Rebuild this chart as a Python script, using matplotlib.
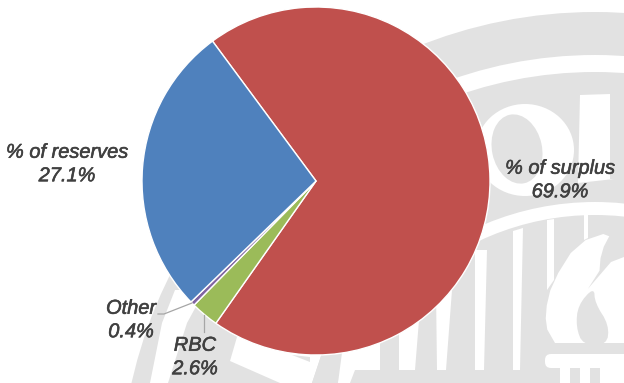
#!/usr/bin/env python3
"""
Share of capital by component, pie over a faded seal
"""

import matplotlib
matplotlib.use('Agg')
import matplotlib.pyplot as plt
import matplotlib.patheffects as pe
from matplotlib.patches import Circle, Ellipse, FancyBboxPatch, Polygon, Rectangle

W, H = 624, 383

labels = ['% of surplus', 'RBC', 'Other', '% of reserves']
shares = [69.9, 2.6, 0.4, 27.1]
colors = ['#C0504D', '#9BBB59', '#8064A2', '#4F81BD']

SEAL = '#E2E2E2'
INK = '#404040'
LEADER = '#A6A6A6'


def flip(points):
    # seal outline is noted from the top-left corner
    return [(x, H - y) for x, y in points]


def fill(ax, points, color):
    ax.add_patch(Polygon(flip(points), closed=True, facecolor=color, edgecolor='none', zorder=1))


def smooth(points, rounds=2):
    # corner cutting, keeps the flame outline from looking faceted
    for _ in range(rounds):
        out = []
        for (x0, y0), (x1, y1) in zip(points, points[1:] + points[:1]):
            out.append((0.75 * x0 + 0.25 * x1, 0.75 * y0 + 0.25 * y1))
            out.append((0.25 * x0 + 0.75 * x1, 0.25 * y0 + 0.75 * y1))
        points = out
    return points


def draw_seal(ax):
    """Grey rings, letters, columns and torch behind the pie"""
    centre = (595, H - 487)
    for radius, color in [(475, SEAL), (432, 'white'), (415, SEAL), (285, 'white'), (272, SEAL)]:
        ax.add_patch(Circle(centre, radius, facecolor=color, edgecolor='none', zorder=1))

    # letters on the ring
    ax.add_patch(Ellipse((525, H - 150), 98, 92, facecolor='white', edgecolor='none', zorder=1))
    ax.add_patch(Ellipse((517, H - 149), 50, 70, angle=12, facecolor=SEAL, edgecolor='none', zorder=1))
    fill(ax, [(580, 95), (610, 94), (610, 179), (614, 179), (578, 183)], 'white')

    # lower left of the ring, narrow band then the wide one
    fill(ax, [(168, 383), (187, 323), (205, 290), (300, 290), (320, 383)], SEAL)
    fill(ax, [(150, 383), (162, 323), (175, 290), (205, 290), (187, 323), (168, 383)], 'white')

    # base of the ring
    fill(ax, [(230, 361), (237, 337), (320, 320), (322, 353), (312, 383), (280, 383)], 'white')
    fill(ax, [(292, 355), (310, 357), (310, 362)], SEAL)
    fill(ax, [(312, 383), (338, 383), (348, 353), (322, 353)], SEAL)
    fill(ax, [(338, 383), (350, 383), (355, 370), (380, 370), (380, 330), (345, 330)], 'white')

    # column stripes
    fill(ax, [(399, 370), (415, 370), (419, 320), (399, 320)], 'white')
    fill(ax, [(437, 370), (446, 370), (452, 290), (436, 290)], 'white')
    fill(ax, [(475, 370), (484, 370), (487, 250), (475, 250)], 'white')
    fill(ax, [(513, 370), (520, 370), (523, 228), (513, 231)], 'white')
    fill(ax, [(547, 290), (554, 280), (554, 219), (547, 220)], 'white')
    fill(ax, [(584, 240), (588, 238), (588, 214), (584, 214)], 'white')

    # torch
    fill(ax, [(555, 343)] + smooth([(548, 335), (545, 313), (552, 283), (577, 243), (612, 231), (601, 252),
                                    (599, 277)], 1) + [(611, 262), (624, 257), (624, 343)], 'white')
    fill(ax, smooth([(583, 345), (576, 327), (578, 305), (594, 287), (595, 303), (609, 325),
                     (607, 345)], 2), SEAL)
    fill(ax, [(560, 343), (624, 343), (624, 354), (560, 354)], SEAL)
    ax.add_patch(FancyBboxPatch((545, H - 368), 90, 14, boxstyle='round,pad=0,rounding_size=6',
                                facecolor='white', edgecolor='none', zorder=1))
    for left, right in [(560, 570), (580, 590), (600, 624)]:
        ax.add_patch(Rectangle((left, 0), right - left, H - 368, facecolor='white', edgecolor='none', zorder=1))


def main():
    plt.rcParams['font.family'] = ['Liberation Sans', 'DejaVu Sans']
    fig = plt.figure(figsize=(W / 100, H / 100), dpi=100)
    ax = fig.add_axes([0, 0, 1, 1])

    draw_seal(ax)

    wedges, _ = ax.pie(shares, colors=colors, startangle=126.5, counterclock=False,
                       center=(316, H - 181), radius=174, frame=True,
                       wedgeprops={'edgecolor': 'white', 'linewidth': 1.0})
    for wedge in wedges:
        wedge.set_zorder(3)

    ax.set_xlim(0, W)
    ax.set_ylim(0, H)
    ax.set_aspect('equal')
    ax.axis('off')

    # leader lines for the two thin slices
    ax.plot([158, 164, 192], [H - 314, H - 314, H - 303], color=LEADER, lw=0.9, zorder=4)
    ax.plot([204, 204], [H - 315, H - 332], color=LEADER, lw=0.9, zorder=4)

    spots = {'% of surplus': (560, 180), 'RBC': (195, 357), 'Other': (131, 320), '% of reserves': (67, 164)}
    for name, share in zip(labels, shares):
        x, y = spots[name]
        ax.text(x, H - y, f'{name}\n{share}%', ha='center', va='center', fontsize=14.4,
                style='italic', color=INK, linespacing=1.3, zorder=5,
                path_effects=[pe.withStroke(linewidth=0.4, foreground=INK)])

    fig.savefig('out.png', dpi=100)
    plt.close(fig)


if __name__ == "__main__":
    main()
